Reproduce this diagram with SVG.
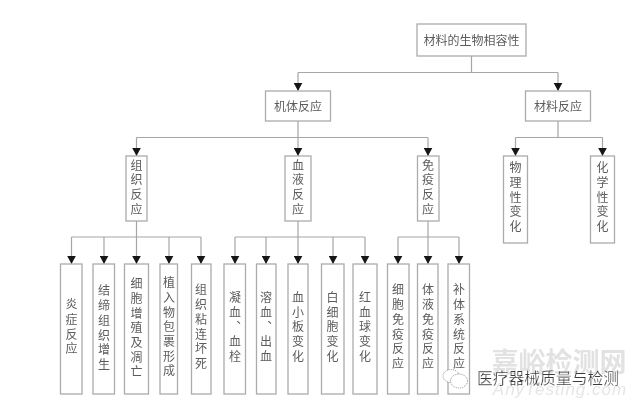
<svg xmlns="http://www.w3.org/2000/svg" width="640" height="406" viewBox="0 0 640 406">
<style>
.b{fill:#fff;stroke:#ababab;stroke-width:1.3}
.t{font-family:"Noto Sans CJK SC","Liberation Sans",sans-serif;font-size:12px;fill:#5c5c5c;text-anchor:middle}
.v{writing-mode:vertical-rl;text-orientation:upright;letter-spacing:2.7px}
.c{fill:none;stroke:#a6a6a6;stroke-width:1.2}
</style>
<defs>
<marker id="a" markerUnits="userSpaceOnUse" markerWidth="9" markerHeight="9" refX="8" refY="4.5" orient="auto" viewBox="0 0 9 9"><path d="M0 0.2L8 4.5L0 8.8Z" fill="#161616" stroke="none"/></marker>
<filter id="s" x="-2%" y="-2%" width="104%" height="104%"><feGaussianBlur stdDeviation="0.35"/></filter>
</defs>
<rect width="640" height="406" fill="#fff"/>
<g filter="url(#s)">
<g id="wm">
<text x="559" y="372" font-family="'Noto Sans CJK SC',sans-serif" font-size="27" font-weight="700" fill="#e2e2e2" text-anchor="middle">嘉峪检测网</text>
<text x="560" y="395" font-family="'Liberation Sans',sans-serif" font-size="17" font-style="italic" fill="#e6e6e6" text-anchor="middle" letter-spacing="1">AnyTesting.com</text>
</g>
<g id="connectors" class="c">
<path d="M471.5 56V72.5M298 72.5H558"/>
<path d="M298 72.5V91" marker-end="url(#a)"/>
<path d="M558 72.5V91" marker-end="url(#a)"/>
<path d="M298 121V137.5M136.5 137.5H428"/>
<path d="M136.5 137.5V156" marker-end="url(#a)"/>
<path d="M298 137.5V156" marker-end="url(#a)"/>
<path d="M428 137.5V156" marker-end="url(#a)"/>
<path d="M558 121V137.5M515.5 137.5H602.5"/>
<path d="M515.5 137.5V156" marker-end="url(#a)"/>
<path d="M602.5 137.5V156" marker-end="url(#a)"/>
<path d="M136.5 221V237M71.5 237H201"/>
<path d="M71.5 237V264" marker-end="url(#a)"/>
<path d="M104 237V264" marker-end="url(#a)"/>
<path d="M136.5 237V264" marker-end="url(#a)"/>
<path d="M169 237V264" marker-end="url(#a)"/>
<path d="M201 237V264" marker-end="url(#a)"/>
<path d="M298 221V237M235 237H365"/>
<path d="M235 237V264" marker-end="url(#a)"/>
<path d="M266 237V264" marker-end="url(#a)"/>
<path d="M298 237V264" marker-end="url(#a)"/>
<path d="M333 237V264" marker-end="url(#a)"/>
<path d="M365 237V264" marker-end="url(#a)"/>
<path d="M428 221V237M398 237H459"/>
<path d="M398 237V264" marker-end="url(#a)"/>
<path d="M428 237V264" marker-end="url(#a)"/>
<path d="M459 237V264" marker-end="url(#a)"/>
</g>
<g id="n-root"><rect class="b" x="417" y="24" width="109" height="32"/><text class="t" x="471.5" y="45">材料的生物相容性</text></g>
<g id="n-body"><rect class="b" x="265.5" y="91" width="65" height="30"/><text class="t" x="298" y="110.5">机体反应</text></g>
<g id="n-material"><rect class="b" x="525.5" y="91" width="65" height="30"/><text class="t" x="558" y="110.5">材料反应</text></g>
<g id="n-tissue"><rect class="b" x="126" y="156" width="21" height="65"/><text class="t v" x="136.5" y="188.5">组织反应</text></g>
<g id="n-blood"><rect class="b" x="285" y="156" width="26" height="65"/><text class="t v" x="298" y="188.5">血液反应</text></g>
<g id="n-immune"><rect class="b" x="417.5" y="156" width="21.5" height="65"/><text class="t v" x="428" y="188.5">免疫反应</text></g>
<g id="n-phys"><rect class="b" x="503.5" y="156" width="24" height="87"/><text class="t v" x="515.5" y="198.5">物理性变化</text></g>
<g id="n-chem"><rect class="b" x="590.5" y="156" width="24" height="87"/><text class="t v" x="602.5" y="198.5">化学性变化</text></g>
<g id="l1"><rect class="b" x="60.5" y="264" width="21.5" height="130"/><text class="t v" x="71.5" y="328">炎症反应</text></g>
<g id="l2"><rect class="b" x="93" y="264" width="21.5" height="130"/><text class="t v" x="104" y="329">结缔组织增生</text></g>
<g id="l3"><rect class="b" x="124.5" y="264" width="24" height="130"/><text class="t v" x="136.5" y="329">细胞增殖及凋亡</text></g>
<g id="l4"><rect class="b" x="160" y="264" width="17.5" height="130"/><text class="t v" x="169" y="328">植入物包裹形成</text></g>
<g id="l5"><rect class="b" x="191.5" y="264" width="19.5" height="130"/><text class="t v" x="201" y="328">组织粘连坏死</text></g>
<g id="l6"><rect class="b" x="224" y="264" width="21.5" height="130"/><text class="t v" x="235" y="328">凝血、血栓</text></g>
<g id="l7"><rect class="b" x="256.5" y="264" width="19.5" height="130"/><text class="t v" x="266" y="328">溶血、出血</text></g>
<g id="l8"><rect class="b" x="288" y="264" width="20" height="130"/><text class="t v" x="298" y="328">血小板变化</text></g>
<g id="l9"><rect class="b" x="321.5" y="264" width="22.5" height="130"/><text class="t v" x="332.5" y="328">白细胞变化</text></g>
<g id="l10"><rect class="b" x="353" y="264" width="24" height="130"/><text class="t v" x="365" y="328">红血球变化</text></g>
<g id="l11"><rect class="b" x="387.5" y="264" width="21.5" height="130"/><text class="t v" x="398" y="328">细胞免疫反应</text></g>
<g id="l12"><rect class="b" x="417.5" y="264" width="20.5" height="130"/><text class="t v" x="428" y="328">体液免疫反应</text></g>
<g id="l13"><rect class="b" x="448" y="264" width="21.5" height="130"/><text class="t v" x="459" y="328">补体系统反应</text></g>
<g id="wm2">
<ellipse cx="451" cy="376" rx="8" ry="6.5" fill="#fff" stroke="#777" stroke-width="0.8" stroke-dasharray="1 1"/>
<ellipse cx="459" cy="381" rx="8.5" ry="7" fill="#fff" stroke="#777" stroke-width="0.8" stroke-dasharray="1 1"/>
<text x="548" y="384" font-family="'Noto Sans CJK SC',sans-serif" font-size="15.8" fill="#3a3a3a" stroke="#fff" stroke-width="0.25" text-anchor="middle">医疗器械质量与检测</text>
</g>
</g>
</svg>
